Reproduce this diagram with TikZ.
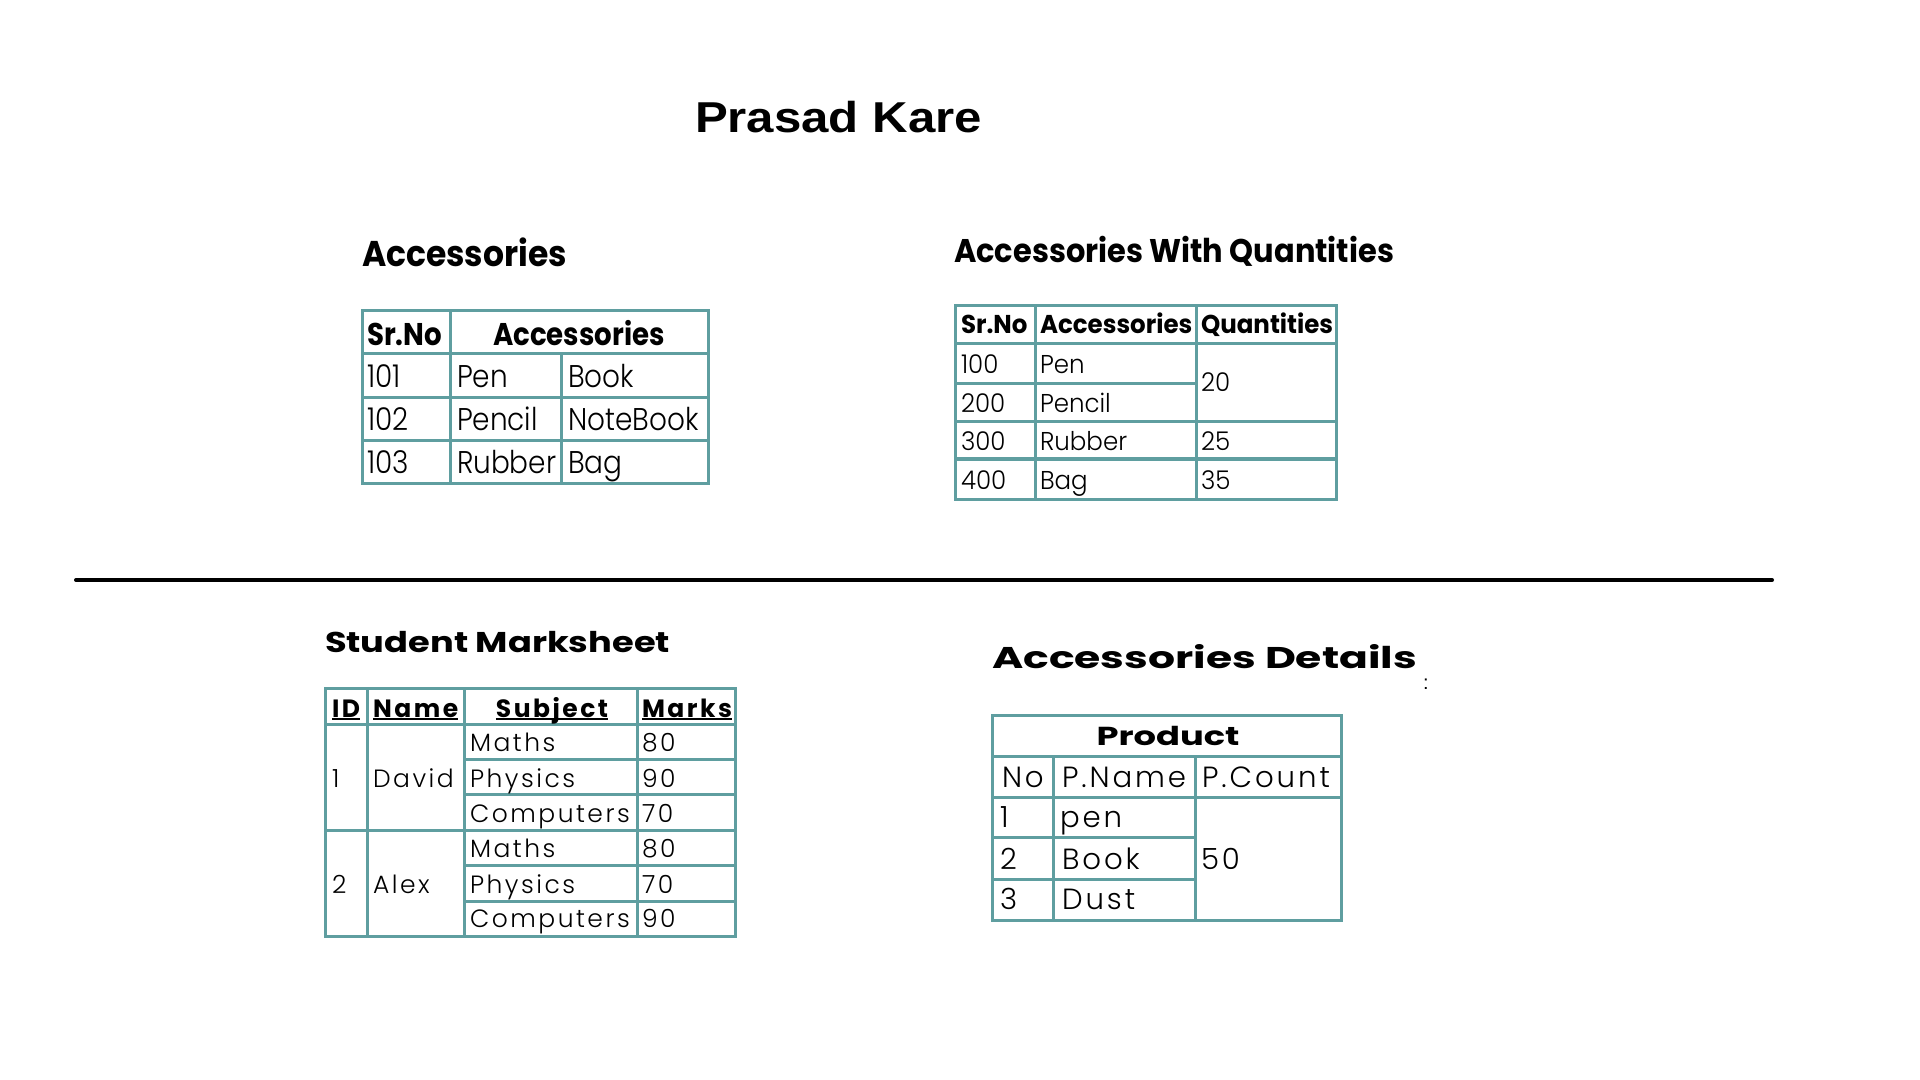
\documentclass[tikz,border=0pt]{standalone}
\usepackage{fontspec}
\usepackage{graphicx}
\setmainfont{Poppins}
\newfontfamily\plta{Poppins Light}[FakeStretch=0.89]
\newfontfamily\pbda{Poppins}[FakeStretch=0.88]
\newfontfamily\pltb{Poppins Light}[FakeStretch=0.95]
\newfontfamily\pbdb{Poppins}[FakeStretch=0.95]
\newfontfamily\pltw{Poppins Light}[LetterSpace=10]
\newfontfamily\pbw{Poppins}[LetterSpace=10]
\newfontfamily\arl{Liberation Sans}
\definecolor{tbl}{RGB}{95,158,160}
\newcommand\fitto[2]{\resizebox{#1}{\height}{#2}}
\tikzset{
  grid/.style={draw=tbl, line width=1.5pt},
  tx/.style={anchor=base west, inner sep=0pt, outer sep=0pt},
  txc/.style={anchor=base, inner sep=0pt, outer sep=0pt},
  fa/.style={font=\fontsize{15.7}{18}\selectfont\plta},
  fah/.style={font=\fontsize{15.7}{18}\selectfont\pbda\bfseries},
  fb/.style={font=\fontsize{12.9}{15}\selectfont\pltb},
  fbh/.style={font=\fontsize{12.9}{15}\selectfont\pbdb\bfseries},
  fc/.style={font=\fontsize{12.5}{15}\selectfont\pltw},
  fch/.style={font=\fontsize{12.5}{15}\selectfont\pbw\bfseries},
  fd/.style={font=\fontsize{14.6}{17}\selectfont\pltw},
  fdh/.style={font=\fontsize{13}{15}\selectfont\bfseries},
  ttl/.style={anchor=base west, inner sep=0pt, outer sep=0pt}
}
\begin{document}
\begin{tikzpicture}[x=0.5pt,y=-0.5pt]
\useasboundingbox (0,0) rectangle (1920,1080);
\fill[white] (0,0) rectangle (1920,1080);

% main title
\node[ttl, font=\fontsize{21.6}{24}\selectfont\arl\bfseries] (main) at (695,133) {\fitto{143.5pt}{Prasad Kare}};

% separator
\coordinate (sepL) at (76,580);
\coordinate (sepR) at (1772,580);
\draw[line width=2pt, line cap=round] (sepL) -- (sepR);

% ---------- Table 1 ----------
\node[ttl, font=\fontsize{17.9}{20}\selectfont\bfseries] (t1title) at (362,267) {\fitto{102.5pt}{Accessories}};
\draw[grid] (362,311) rectangle (708,483);
\draw[grid] (450,311) -- (450,483);
\draw[grid] (561,354) -- (561,483);
\foreach \y in {354,397,440} \draw[grid] (362,\y) -- (708,\y);
\node[tx, fah] (a1h1) at (367,345) {Sr.No};
\node[txc, fah] (a1h2) at (579,345) {Accessories};
\node[tx, fa] (a1r1c1) at (367,387) {101};
\node[tx, fa] (a1r1c2) at (457,387) {Pen};
\node[tx, fa] (a1r1c3) at (568,387) {Book};
\node[tx, fa] (a1r2c1) at (367,430) {102};
\node[tx, fa] (a1r2c2) at (457,430) {Pencil};
\node[tx, fa] (a1r2c3) at (568,430) {NoteBook};
\node[tx, fa] (a1r3c1) at (367,473) {103};
\node[tx, fa] (a1r3c2) at (457,473) {Rubber};
\node[tx, fa] (a1r3c3) at (568,473) {Bag};

% ---------- Table 2 ----------
\node[ttl, font=\fontsize{16.4}{19}\selectfont\bfseries] (t2title) at (954,263) {\fitto{220pt}{Accessories With Quantities}};
\draw[grid] (955,306) rectangle (1336,499);
\draw[grid] (1035,306) -- (1035,499);
\draw[grid] (1196,306) -- (1196,499);
\draw[grid] (955,344) -- (1336,344);
\draw[grid] (955,383) -- (1196,383);
\draw[grid] (955,421) -- (1336,421);
\draw[draw=tbl, line width=2.2pt] (955,459) -- (1336,459);
\node[tx, fbh] (b1h1) at (961,334) {Sr.No};
\node[tx, fbh] (b1h2) at (1040,334) {Accessories};
\node[tx, fbh] (b1h3) at (1201,334) {Quantities};
\node[tx, fb] (b1r1c1) at (961,373) {100};
\node[tx, fb] (b1r1c2) at (1040,373) {Pen};
\node[tx, fb] (b1r12c3) at (1201,392) {20};
\node[tx, fb] (b1r2c1) at (961,412) {200};
\node[tx, fb] (b1r2c2) at (1040,412) {Pencil};
\node[tx, fb] (b1r3c1) at (961,450) {300};
\node[tx, fb] (b1r3c2) at (1040,450) {Rubber};
\node[tx, fb] (b1r3c3) at (1201,450) {25};
\node[tx, fb] (b1r4c1) at (961,489) {400};
\node[tx, fb] (b1r4c2) at (1040,489) {Bag};
\node[tx, fb] (b1r4c3) at (1201,489) {35};

% ---------- Table 3 ----------
\node[ttl, font=\fontsize{14.3}{17}\selectfont\bfseries] (t3title) at (325,652) {\fitto{172.5pt}{Student Marksheet}};
\draw[grid] (325,688) rectangle (735,936);
\foreach \x in {367,464,637} \draw[grid] (\x,688) -- (\x,936);
\draw[grid] (325,724) -- (735,724);
\draw[grid] (325,830) -- (735,830);
\foreach \y in {759,794,865,901} \draw[grid] (464,\y) -- (735,\y);
\node[tx, fch] (c1h1) at (332,717) {ID};
\node[tx, fch] (c1h2) at (373,717) {Name};
\node[txc, fch] (c1h3) at (552,717) {Subject};
\node[tx, fch] (c1h4) at (642,717) {Marks};
\foreach \n in {c1h1,c1h2,c1h3,c1h4}
  \draw[line width=0.7pt] ([yshift=-1pt]\n.base west) -- ([yshift=-1pt]\n.base east);
\node[tx, fc] (c1id1) at (332,787) {1};
\node[tx, fc] (c1nm1) at (373,787) {David};
\node[tx, fc] (c1s1) at (470,751) {Maths};
\node[tx, fc] (c1m1) at (642,751) {80};
\node[tx, fc] (c1s2) at (470,787) {Physics};
\node[tx, fc] (c1m2) at (642,787) {90};
\node[tx, fc] (c1s3) at (470,822) {Computers};
\node[tx, fc] (c1m3) at (642,822) {70};
\node[tx, fc] (c1id2) at (332,893) {2};
\node[tx, fc] (c1nm2) at (373,893) {Alex};
\node[tx, fc] (c1s4) at (470,857) {Maths};
\node[tx, fc] (c1m4) at (642,857) {80};
\node[tx, fc] (c1s5) at (470,893) {Physics};
\node[tx, fc] (c1m5) at (642,893) {70};
\node[tx, fc] (c1s6) at (470,927) {Computers};
\node[tx, fc] (c1m6) at (642,927) {90};

% ---------- Table 4 ----------
\node[ttl, font=\fontsize{15}{18}\selectfont\bfseries] (t4title) at (992,668) {\fitto{212.5pt}{Accessories Details}};
\node[tx, font=\fontsize{10}{12}\selectfont\arl] (colon) at (1423,689) {:};
\draw[grid] (992,715) rectangle (1341,920);
\draw[grid] (992,756) -- (1341,756);
\draw[grid] (992,797) -- (1341,797);
\draw[grid] (992,837) -- (1195,837);
\draw[grid] (992,879) -- (1195,879);
\draw[grid] (1053,756) -- (1053,920);
\draw[grid] (1195,756) -- (1195,920);
\node[txc, fdh] (d1h) at (1168,745) {\fitto{71.5pt}{Product}};
\node[tx, fd] (d1c1) at (1002,787) {No};
\node[tx, fd] (d1c2) at (1062,787) {P.Name};
\node[tx, fd] (d1c3) at (1202,787) {P.Count};
\node[tx, fd] (d1r1c1) at (1000,827) {1};
\node[tx, fd] (d1r1c2) at (1060,827) {pen};
\node[tx, fd] (d1r2c1) at (1000,869) {2};
\node[tx, fd] (d1r2c2) at (1062,869) {Book};
\node[tx, fd] (d1r3c1) at (1000,909) {3};
\node[tx, fd] (d1r3c2) at (1062,909) {Dust};
\node[tx, fd] (d1cnt) at (1201,869) {50};
\end{tikzpicture}
\end{document}
